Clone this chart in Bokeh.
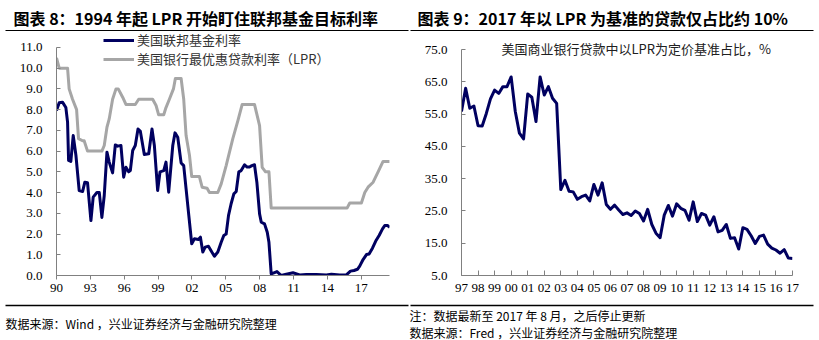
from bokeh.plotting import figure
from bokeh.models import (Range1d, FixedTicker, NumeralTickFormatter, Label,
                          BoxAnnotation, Legend, LegendItem)
from bokeh.layouts import row, column
from bokeh.embed import file_html
from bokeh.resources import INLINE

# ---------------- data: left panel ----------------
fed_years = [1990.00, 1990.24, 1990.53, 1990.83, 1990.98, 1991.07, 1991.27, 1991.48, 1991.72, 1992.01,
             1992.31, 1992.51, 1992.75, 1993.05, 1993.25, 1993.58, 1993.79, 1994.02, 1994.23, 1994.47,
             1994.67, 1994.97, 1995.21, 1995.41, 1995.71, 1995.95, 1996.15, 1996.39, 1996.54, 1996.75,
             1996.98, 1997.22, 1997.43, 1997.78, 1998.17, 1998.46, 1998.67, 1998.96, 1999.17, 1999.50,
             1999.70, 1999.94, 2000.30, 2000.50, 2000.74, 2001.04, 2001.27, 2001.48, 2001.72, 2001.98,
             2002.22, 2002.57, 2002.75, 2002.96, 2003.17, 2003.46, 2003.76, 2003.99, 2004.29, 2004.59,
             2004.82, 2005.03, 2005.24, 2005.47, 2005.71, 2005.92, 2006.15, 2006.36, 2006.66, 2006.89,
             2007.10, 2007.31, 2007.54, 2007.75, 2007.99, 2008.14, 2008.43, 2008.67, 2008.82, 2009.02,
             2009.26, 2009.53, 2009.91, 2010.36, 2010.95, 2011.54, 2012.13, 2013.02, 2013.91, 2014.35,
             2015.09, 2015.68, 2016.04, 2016.36, 2016.66, 2016.86, 2017.16, 2017.46, 2017.69, 2017.99,
             2018.28, 2018.58, 2018.88, 2019.08, 2019.32, 2019.53]
fed_rate = [7.96, 8.33, 8.36, 8.10, 7.40, 5.55, 5.50, 6.75, 5.80, 4.10,
            4.05, 4.50, 4.47, 2.65, 3.78, 4.00, 4.00, 2.80, 3.86, 5.95,
            5.47, 4.95, 6.30, 6.24, 6.27, 4.74, 5.22, 5.00, 5.06, 6.03,
            6.27, 7.07, 6.95, 5.84, 5.87, 7.07, 6.27, 4.10, 5.00, 5.06,
            5.47, 4.02, 6.27, 6.88, 6.67, 5.43, 5.30, 4.18, 2.90, 1.53,
            1.77, 1.74, 1.85, 1.13, 1.37, 1.41, 1.13, 0.93, 1.13, 1.60,
            1.93, 2.00, 2.90, 3.46, 3.94, 4.05, 5.00, 5.06, 5.34, 5.23,
            5.23, 5.30, 5.34, 4.50, 2.97, 2.57, 2.49, 2.09, 1.60, 0.08,
            0.13, 0.19, 0.00, 0.06, 0.13, 0.03, 0.05, 0.05, 0.03, 0.06,
            0.03, 0.03, 0.21, 0.24, 0.30, 0.45, 0.77, 1.01, 1.04, 1.32,
            1.66, 1.93, 2.25, 2.41, 2.41, 2.33]

lpr_years = [1990.00, 1990.24, 1990.98, 1991.12, 1991.42, 1991.78, 1991.95, 1992.31, 1992.45, 1992.75,
             1994.02, 1994.23, 1994.47, 1994.67, 1994.97, 1995.27, 1995.47, 1995.86, 1996.15, 1996.98,
             1997.28, 1998.52, 1998.82, 1999.05, 1999.50, 1999.70, 2000.00, 2000.36, 2000.53, 2001.04,
             2001.27, 2001.48, 2001.78, 2001.98, 2002.66, 2002.90, 2003.34, 2003.55, 2004.29, 2004.59,
             2005.03, 2005.62, 2006.07, 2006.45, 2007.54, 2007.99, 2008.22, 2008.52, 2008.82, 2009.02,
             2015.74, 2015.98, 2017.01, 2017.31, 2017.60, 2018.05, 2018.49, 2018.93, 2019.53]
lpr_rate = [10.5, 10.0, 10.0, 9.0, 8.5, 8.0, 6.6, 6.5, 6.5, 6.0,
            6.0, 6.27, 7.15, 7.55, 8.5, 9.0, 9.0, 8.6, 8.25, 8.25,
            8.5, 8.5, 8.2, 7.75, 7.75, 8.1, 8.5, 9.0, 9.5, 9.5,
            8.5, 6.75, 5.8, 4.77, 4.77, 4.26, 4.21, 4.0, 4.0, 4.42,
            5.3, 6.6, 7.47, 8.25, 8.25, 7.23, 5.22, 5.0, 5.0, 3.25,
            3.25, 3.5, 3.5, 4.0, 4.26, 4.5, 5.0, 5.5, 5.5]

left_x_ticks = [1990, 1993, 1996, 1999, 2002, 2005, 2008, 2011, 2014, 2017]
left_x_labels = ["90", "93", "96", "99", "02", "05", "08", "11", "14", "17"]
left_y_ticks = [0, 1, 2, 3, 4, 5, 6, 7, 8, 9, 10, 11]

# ---------------- data: right panel (quarterly, 1997 - 2017) ----------------
share_start_year = 1997
share_values = [55.8, 63.0, 56.8, 57.5, 51.4, 51.3, 55.2, 59.7, 62.4, 61.4,
                63.5, 63.5, 66.5, 55.8, 49.1, 47.3, 61.2, 60.2, 52.7, 66.5,
                60.9, 63.5, 59.9, 58.3, 31.6, 34.5, 31.1, 30.9, 28.6, 29.4,
                29.9, 28.1, 33.2, 29.9, 33.7, 27.0, 25.5, 26.8, 25.3, 23.9,
                24.4, 23.6, 25.0, 24.2, 21.9, 25.5, 20.8, 18.1, 16.7, 23.7,
                26.7, 23.4, 27.2, 25.8, 25.2, 22.1, 27.8, 21.7, 24.2, 23.7,
                20.6, 23.2, 18.5, 19.0, 20.8, 16.5, 16.7, 13.2, 19.8, 19.3,
                17.3, 14.9, 17.1, 17.5, 14.7, 13.5, 12.9, 11.9, 13.0, 10.4,
                10.3]
share_x = [share_start_year + 0.25 * i for i in range(len(share_values))]

right_x_ticks = [1997, 1998, 1999, 2000, 2001, 2002, 2003, 2004, 2005, 2006, 2007,
                 2008, 2009, 2010, 2011, 2012, 2013, 2014, 2015, 2016, 2017]
right_x_labels = ["97", "98", "99", "00", "01", "02", "03", "04", "05", "06", "07",
                  "08", "09", "10", "11", "12", "13", "14", "15", "16", "17"]
right_y_ticks = [5, 15, 25, 35, 45, 55, 65, 75]

# ---------------- texts ----------------
title_left = "图表 8：1994 年起 LPR 开始盯住联邦基金目标利率"
title_right = "图表 9：2017 年以 LPR 为基准的贷款仅占比约 10%"
legend_fed = "美国联邦基金利率"
legend_lpr = "美国银行最优惠贷款利率（LPR）"
inner_title_right = "美国商业银行贷款中以LPR为定价基准占比，%"
source_left = "数据来源：Wind ，兴业证券经济与金融研究院整理"
note_right = "注：数据最新至 2017 年 8 月，之后停止更新"
source_right = "数据来源：Fred ，兴业证券经济与金融研究院整理"

NAVY = "#000060"
GRAY = "#a6a6a6"
AXIS = "#808080"
CJK = "Noto Sans CJK SC"
SERIF = "Liberation Serif"

TOP_H = 31      # title strip: page y 0 .. 31
CHART_H = 269   # chart strip: page y 31 .. 300
BOT_H = 40      # footer strip: page y 300 .. 340


def make_chart(width, fl, fr, fb, xr, yr, ybounds):
    p = figure(width=width, height=CHART_H, output_backend="svg", toolbar_location=None,
               title=None, x_range=xr, y_range=yr, min_border_left=fl, min_border_right=fr,
               min_border_top=0, min_border_bottom=fb)
    p.grid.visible = False
    p.outline_line_color = None
    p.background_fill_color = "white"
    p.border_fill_color = "white"
    for ax in (p.xaxis[0], p.yaxis[0]):
        ax.axis_line_color = AXIS
        ax.major_tick_line_color = AXIS
        ax.minor_tick_line_color = None
        ax.major_label_text_font = SERIF
        ax.major_label_text_font_size = "13px"
        ax.major_label_text_color = "#000000"
    p.yaxis[0].bounds = ybounds
    p.yaxis[0].major_tick_in = 4
    p.yaxis[0].major_tick_out = 0
    p.yaxis[0].major_label_standoff = 14
    p.yaxis[0].formatter = NumeralTickFormatter(format="0.0")
    return p


def make_strip(height):
    s = figure(width=819, height=height, output_backend="svg", toolbar_location=None,
               title=None, x_range=Range1d(0, 819), y_range=Range1d(height, 0),
               x_axis_type=None, y_axis_type=None, min_border=0)
    s.grid.visible = False
    s.outline_line_color = None
    s.background_fill_color = "white"
    s.border_fill_color = "white"
    return s


def add_text(p, x, y, text, size, bold=False, color="#000000", units="data"):
    p.add_layout(Label(x=x, y=y, x_units=units, y_units=units, text=text,
                       text_font=CJK, text_font_size=size,
                       text_font_style="bold" if bold else "normal",
                       text_color=color, text_baseline="middle", text_align="left"))


def add_rule(p, x0, x1, y, thick=1.3):
    p.add_layout(BoxAnnotation(left=x0, right=x1, bottom=y + thick / 2, top=y - thick / 2,
                               fill_color="#000000", fill_alpha=1.0, line_color=None))


# ---------------- title strip ----------------
top = make_strip(TOP_H)
add_text(top, 13, 17.0, title_left, "16px", bold=True)
add_text(top, 417, 17.0, title_right, "16px", bold=True)
add_rule(top, 5, 408, 30.2)
add_rule(top, 410, 813, 30.2)

# ---------------- left chart ----------------
p1 = make_chart(410, 56, 21, 24, Range1d(1990, 2019.5), Range1d(0, 11 * 245 / 229), (0, 11))
p1.xaxis[0].ticker = FixedTicker(ticks=left_x_ticks)
p1.xaxis[0].major_label_overrides = dict(zip(left_x_ticks, left_x_labels))
p1.xaxis[0].major_tick_in = 0
p1.xaxis[0].major_tick_out = 4
p1.xaxis[0].major_label_standoff = 4
p1.yaxis[0].ticker = FixedTicker(ticks=left_y_ticks)

r_lpr = p1.line(lpr_years, lpr_rate, line_color=GRAY, line_width=3, line_join="round")
r_fed = p1.line(fed_years, fed_rate, line_color=NAVY, line_width=3, line_join="round")

# location = bottom-left corner of the legend, measured from the frame's bottom-left
legend = Legend(items=[LegendItem(label=legend_fed, renderers=[r_fed]),
                       LegendItem(label=legend_lpr, renderers=[r_lpr])],
                location=(47, 207), border_line_color=None, background_fill_alpha=0,
                padding=0, spacing=0, margin=0, label_height=14, glyph_height=14,
                glyph_width=31, label_standoff=3, label_text_font=CJK,
                label_text_font_size="13px", label_text_color="#333333")
p1.add_layout(legend)

# ---------------- right chart ----------------
p2 = make_chart(409, 51, 27, 25, Range1d(1997, 2017), Range1d(5, 5 + 70 * 244 / 226), (5, 75))
p2.xaxis[0].ticker = FixedTicker(ticks=right_x_ticks)
p2.xaxis[0].major_label_overrides = dict(zip(right_x_ticks, right_x_labels))
p2.xaxis[0].major_tick_in = 5
p2.xaxis[0].major_tick_out = 0
p2.xaxis[0].major_label_standoff = 8
p2.yaxis[0].ticker = FixedTicker(ticks=right_y_ticks)

p2.line(share_x, share_values, line_color=NAVY, line_width=3, line_join="round")
add_text(p2, 40, 227, inner_title_right, "13px", color="#202020", units="screen")

# ---------------- footer strip ----------------
bottom = make_strip(BOT_H)
add_rule(bottom, 5, 408, 5)
add_rule(bottom, 410, 813, 5)
add_text(bottom, 5, 23, source_left, "12px")
add_text(bottom, 409, 15, note_right, "12px")
add_text(bottom, 409, 32, source_right, "12px")

layout = column(top, row(p1, p2), bottom)
open("out.html", "w").write(file_html(layout, INLINE))
